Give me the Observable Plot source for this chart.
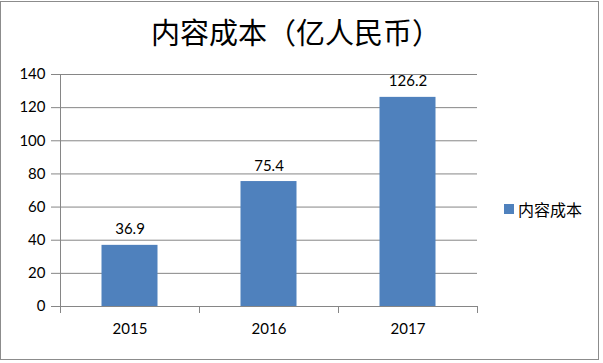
<!DOCTYPE html>
<html>
<head>
<meta charset="utf-8">
<script src="https://cdn.jsdelivr.net/npm/d3@7"></script>
<script src="https://cdn.jsdelivr.net/npm/@observablehq/plot@0.6"></script>
<style>
  html, body { margin: 0; padding: 0; background: #fff; }
  #wrap { position: relative; width: 603px; height: 363px; overflow: hidden; }
  #border { position: absolute; left: 0; top: 1px; width: 597px; height: 357px; border: 1px solid #8c8c8c; pointer-events: none; }
  #title { position: absolute; left: 0; top: 14px; width: 592px; text-align: center; font-family: "Noto Sans CJK SC", sans-serif; font-size: 29px; color: #000; line-height: 1.2; }
  #legend { position: absolute; left: 504px; top: 197px; font-family: "Noto Sans CJK SC", sans-serif; font-size: 16px; color: #000; display: flex; align-items: center; }
  #legend .sw { width: 10px; height: 10px; background: #4F81BD; margin-right: 4px; }
  svg { display: block; }
</style>
</head>
<body>
<div id="wrap">
  <div id="chart"></div>
  <div id="title"></div>
  <div id="legend"><span class="sw"></span><span id="legendText"></span></div>
  <div id="border"></div>
</div>
<script>
const title = "内容成本（亿人民币）";
const seriesName = "内容成本";
const years = ["2015", "2016", "2017"];
const values = [36.9, 75.4, 126.2];
const yTicks = [0, 20, 40, 60, 80, 100, 120, 140];

const data = years.map((y, i) => ({year: y, value: values[i]}));

const W = 603, H = 363, ML = 60, MR = 126, MT = 74, MB = 57;
const bw = (W - ML - MR) / years.length;
const barInset = (bw - 56) / 2;
const font = "Lato, 'Open Sans', sans-serif";

document.getElementById("title").textContent = title;
document.getElementById("legendText").textContent = seriesName;

const plot = Plot.plot({
  width: W, height: H,
  marginLeft: ML, marginRight: MR, marginTop: MT, marginBottom: MB,
  style: {fontFamily: font, color: "#000", background: "#fff"},
  x: {type: "band", domain: years, padding: 0, label: null},
  y: {domain: [0, 140], label: null},
  marks: [
    Plot.gridY(yTicks, {stroke: "#868686", strokeOpacity: 1}),
    Plot.barY(data, {x: "year", y: "value", fill: "#4F81BD", insetLeft: barInset, insetRight: barInset}),
    Plot.frame({anchor: "left", stroke: "#868686"}),
    Plot.frame({anchor: "bottom", stroke: "#868686"}),
    Plot.ruleX(years, {x: d => d, y1: 0, y2: 0, insetBottom: -7, dx: -bw / 2, stroke: "#868686"}),
    Plot.ruleX(years.slice(-1), {x: d => d, y1: 0, y2: 0, insetBottom: -7, dx: bw / 2, stroke: "#868686"}),
    Plot.axisY(yTicks, {tickSize: 9, tickPadding: 6, fontSize: 15, stroke: "#868686", fill: "#000", label: null}),
    Plot.axisX({tickSize: 0, tickPadding: 17, fontSize: 15, fill: "#000", label: null}),
    Plot.text(data, {x: "year", y: "value", text: d => d.value.toFixed(1), dy: -11, lineAnchor: "bottom", fontSize: 15, fill: "#000"})
  ]
});
document.getElementById("chart").appendChild(plot);
</script>
</body>
</html>
